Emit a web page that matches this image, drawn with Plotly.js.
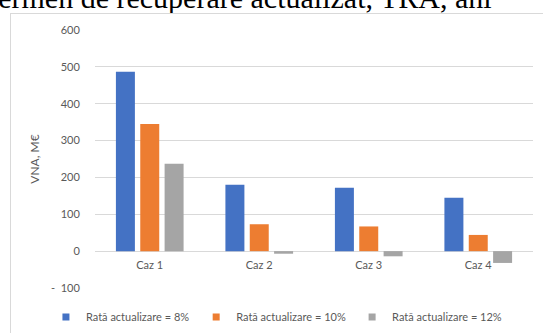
<!DOCTYPE html>
<html>
<head>
<meta charset="utf-8">
<script src="https://cdn.plot.ly/plotly-3.0.1.min.js"></script>
<style>
  html, body { margin: 0; padding: 0; background: #fff; overflow: hidden; }
  #wrap { position: relative; width: 543px; height: 333px; overflow: hidden; }
  #chart { position: absolute; left: 0; top: 0; width: 543px; height: 333px; }
  #frame { position: absolute; left: 10px; top: 13px; width: 560px; height: 340px;
           border: 1px solid #d9d9d9; pointer-events: none; }
  #caption { position: absolute; left: -18px; top: -17px; white-space: nowrap; line-height: 30px;
             font-family: "Liberation Serif", "Times New Roman", serif; font-size: 30px; color: #000; }
</style>
</head>
<body>
<div id="wrap">
  <div id="caption">Termen de recuperare actualizat, TRA, ani</div>
  <div id="chart"></div>
  <div id="frame"></div>
</div>
<script>
// Net present value (VNA, M€) per case, for three discount rates
const categories = ["Caz 1", "Caz 2", "Caz 3", "Caz 4"];
const seriesNames = ["Rată actualizare = 8%", "Rată actualizare = 10%", "Rată actualizare = 12%"];
const rate8 = [487, 180, 172, 145];
const rate10 = [345, 73, 67, 44];
const rate12 = [237, -7, -14, -32];
const tickValues = [-100, 0, 100, 200, 300, 400, 500, 600];
const tickLabels = ["-  100", "0", "100", "200", "300", "400", "500", "600"];

const colors = ["#4472C4", "#ED7D31", "#A5A5A5"];
const values = [rate8, rate10, rate12];
const font = "Lato, 'Open Sans', sans-serif";

// bars (legend handled by marker-only entries so the swatches stay small)
const traces = values.map((v, i) => ({
  type: "bar",
  x: categories,
  y: v,
  name: seriesNames[i],
  marker: { color: colors[i], line: { width: 0 } },
  showlegend: false,
  hoverinfo: "skip"
}));

const legendNames = ["legend", "legend2", "legend3"];
const legendX = [-0.112, 0.231, 0.587];
seriesNames.forEach((n, i) => {
  traces.push({
    type: "scatter",
    mode: "markers",
    x: [null], y: [null],
    name: n,
    legend: legendNames[i],
    marker: { symbol: "square", size: 7, color: colors[i] },
    showlegend: true
  });
});

const legendBase = {
  orientation: "h",
  xanchor: "left",
  yanchor: "middle",
  y: -0.112,
  font: { family: font, size: 11, color: "#595959" },
  bgcolor: "rgba(0,0,0,0)",
  itemwidth: 30,
  tracegroupgap: 0
};

const layout = {
  width: 543,
  height: 333,
  margin: { l: 95, r: 10, t: 30, b: 45, autoexpand: false },
  paper_bgcolor: "rgba(0,0,0,0)",
  plot_bgcolor: "rgba(0,0,0,0)",
  barmode: "group",
  bargap: 0.333,
  bargroupgap: 0.22,
  font: { family: font, size: 11, color: "#595959" },
  xaxis: {
    type: "category",
    anchor: "free",
    position: 100 / 700,
    showline: false,
    showgrid: false,
    ticks: "outside",
    ticklen: 4,
    tickcolor: "rgba(0,0,0,0)",
    tickfont: { family: font, size: 11, color: "#595959" },
    fixedrange: true
  },
  yaxis: {
    range: [-100, 600],
    tickvals: tickValues,
    ticktext: tickLabels,
    showgrid: true,
    gridcolor: "#d9d9d9",
    gridwidth: 1,
    zeroline: true,
    zerolinecolor: "#d9d9d9",
    zerolinewidth: 1,
    showline: false,
    ticks: "outside",
    ticklen: 12,
    tickcolor: "rgba(0,0,0,0)",
    tickfont: { family: font, size: 11, color: "#595959" },
    title: { text: "VNA, M€", font: { family: font, size: 12, color: "#595959" }, standoff: 8 },
    automargin: false,
    fixedrange: true
  },
  legend: Object.assign({}, legendBase, { x: legendX[0] }),
  legend2: Object.assign({}, legendBase, { x: legendX[1] }),
  legend3: Object.assign({}, legendBase, { x: legendX[2] })
};

Plotly.newPlot("chart", traces, layout, { displayModeBar: false, staticPlot: true });
</script>
</body>
</html>
